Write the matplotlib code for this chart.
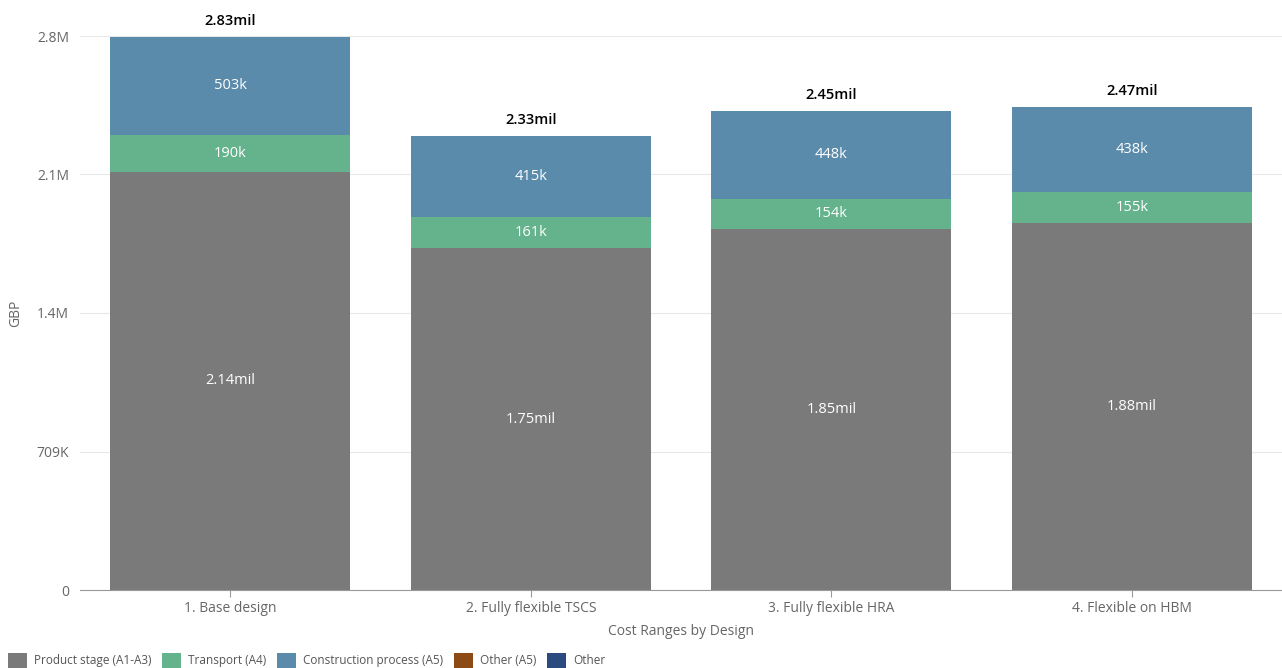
import matplotlib
matplotlib.use("Agg")
import matplotlib.pyplot as plt
from matplotlib.patches import Patch
import numpy as np

plt.rcParams['font.family'] = ['Open Sans', 'DejaVu Sans']

categories = ["1. Base design", "2. Fully flexible TSCS", "3. Fully flexible HRA", "4. Flexible on HBM"]
product_stage = [2140000, 1750000, 1850000, 1880000]
transport = [190000, 161000, 154000, 155000]
construction = [503000, 415000, 448000, 438000]
other_a5 = [0, 0, 0, 0]
other = [0, 0, 0, 0]
series_names = ["Product stage (A1-A3)", "Transport (A4)", "Construction process (A5)", "Other (A5)", "Other"]
colors = ["#7a7a7a", "#64b38c", "#5b8bab", "#8c4a14", "#2b4a80"]
yticks = [0, 709000, 1418000, 2127000, 2836000]
ytick_labels = ["0", "709K", "1.4M", "2.1M", "2.8M"]

fig = plt.figure(figsize=(12.82, 6.68), dpi=100)
ax = fig.add_axes([80/1282, 78/668, 1202/1282, 554/668])

x = np.arange(len(categories))
series = [product_stage, transport, construction, other_a5, other]
bottom = np.zeros(len(categories))
for vals, col, name in zip(series, colors, series_names):
    v = np.array(vals, dtype=float)
    ax.bar(x, v, bottom=bottom, width=0.8, color=col, label=name, zorder=2)
    for xi, vi, bi in zip(x, v, bottom):
        if vi > 0:
            if vi >= 1e6:
                txt = f"{vi/1e6:.2f}mil"
            else:
                txt = f"{vi/1e3:.0f}k"
            ax.text(xi, bi + vi/2, txt, ha='center', va='center', color='white', fontsize=10.5)
    bottom += v

for xi, tot in zip(x, bottom):
    ax.text(xi, tot + 45000, f"{tot/1e6:.2f}mil", ha='center', va='bottom', color='black',
            fontsize=10.5, fontweight='semibold', clip_on=False)

ax.set_xlim(-0.5, 3.5)
ax.set_ylim(0, 2836000)
ax.set_yticks(yticks)
ax.set_yticklabels(ytick_labels)
ax.set_xticks(x)
ax.set_xticklabels(categories)
ax.grid(axis='y', color='#e8e8e8', linewidth=0.8, zorder=0)
ax.set_axisbelow(True)
for s in ['top', 'right', 'left']:
    ax.spines[s].set_visible(False)
ax.spines['bottom'].set_color('#999999')
ax.tick_params(axis='y', length=0, pad=8, labelsize=10, labelcolor='#666666')
ax.tick_params(axis='x', length=5, color='#999999', pad=3, labelsize=10, labelcolor='#666666')
ax.set_ylabel("GBP", fontsize=10, color='#666666')
ax.yaxis.set_label_coords(-0.047, 0.5)
ax.set_xlabel("Cost Ranges by Design", fontsize=10, color='#666666', labelpad=6)

handles = [Patch(facecolor=c, edgecolor='none') for c in colors]
fig.legend(handles, series_names, loc='lower left', bbox_to_anchor=(0.0, -0.012), ncol=5,
           frameon=False, fontsize=8.5, labelcolor='#555555', handlelength=1.6, handleheight=1.6,
           handletextpad=0.6, columnspacing=0.9, borderaxespad=0.3)

fig.savefig("out.png", dpi=100)
